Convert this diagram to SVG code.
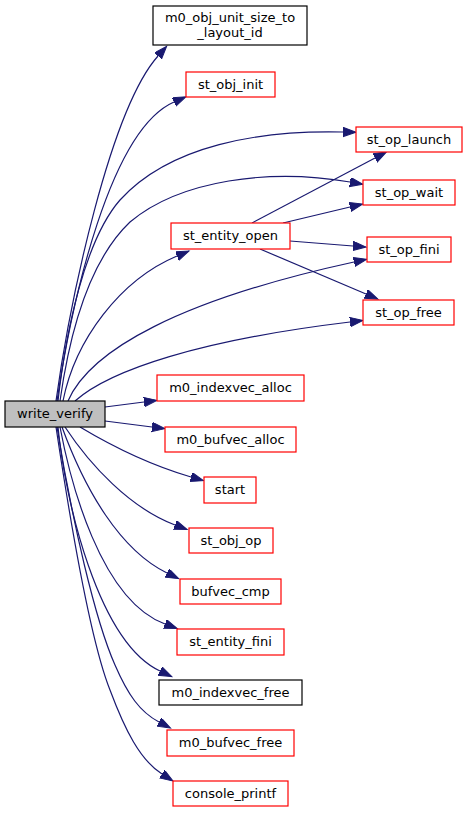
<svg xmlns="http://www.w3.org/2000/svg" width="468" height="813" viewBox="0 0 468 813">
<style>
  .n rect { fill: #ffffff; stroke-width: 1.2; }
  .red rect { stroke: #ff0000; }
  .blk rect { stroke: #000000; }
  .cur rect { fill: #bfbfbf; stroke: #000000; }
  text { font-family: "DejaVu Sans", "Liberation Sans", sans-serif; font-size: 13px; fill: #000000; text-anchor: middle; }
  .e path { fill: none; stroke: #191970; stroke-width: 1.2; marker-end: url(#ah); }
</style>
<defs>
  <marker id="ah" markerUnits="userSpaceOnUse" markerWidth="15" markerHeight="11" refX="0" refY="4.67" orient="auto">
    <path d="M0,0 L13,4.67 L0,9.33 z" fill="#191970" stroke="#191970" stroke-width="1"/>
  </marker>
</defs>
<rect width="468" height="813" fill="#ffffff"/>
<g id="edges" class="e">
  <path d="M56,401 C70,300 110,110 158,56"/>
  <path d="M57,401 C72,300 110,130 174,102"/>
  <path d="M58,401 C66,330 85,240 120,200 C170,145 260,130 343,132"/>
  <path d="M60,401 C70,330 90,260 130,222 C180,180 270,168 350,182"/>
  <path d="M63,401 C75,340 120,280 177,256"/>
  <path d="M68,401 C90,350 180,300 354,262"/>
  <path d="M75,401 C110,370 200,340 350,322"/>
  <path d="M252,223 L375,158"/>
  <path d="M283,223 L350,207"/>
  <path d="M290,241 L353,246"/>
  <path d="M260,249 L366,294"/>
  <path d="M105,407 L144,402"/>
  <path d="M105,421 L152,427"/>
  <path d="M80,427 C110,445 150,465 191,477"/>
  <path d="M65,427 C90,465 130,508 175,525"/>
  <path d="M62,427 C85,490 120,550 167,573"/>
  <path d="M60,427 C70,480 100,600 165,624"/>
  <path d="M58,427 C65,500 98,642 160,671"/>
  <path d="M57,427 C72,520 95,620 115,665 C128,695 140,712 159,722"/>
  <path d="M56,427 C70,520 90,640 110,690 C125,730 140,760 162,774"/>
</g>
<g id="write_verify" class="n cur"><rect x="5" y="401" width="100" height="26"/><text x="55" y="418">write_verify</text></g>
<g id="m0_obj_unit_size_to_layout_id" class="n blk"><rect x="153" y="6" width="154" height="39"/><text x="230" y="21.5">m0_obj_unit_size_to</text><text x="230" y="36.5">_layout_id</text></g>
<g id="st_obj_init" class="n red"><rect x="186" y="72" width="89" height="25"/><text x="230.5" y="89">st_obj_init</text></g>
<g id="st_op_launch" class="n red"><rect x="356" y="127" width="106" height="25"/><text x="409" y="144">st_op_launch</text></g>
<g id="st_op_wait" class="n red"><rect x="363" y="180" width="92" height="25"/><text x="409" y="197">st_op_wait</text></g>
<g id="st_entity_open" class="n red"><rect x="171" y="223" width="119" height="26"/><text x="230.5" y="240">st_entity_open</text></g>
<g id="st_op_fini" class="n red"><rect x="367" y="237" width="84" height="25"/><text x="409" y="254">st_op_fini</text></g>
<g id="st_op_free" class="n red"><rect x="363" y="300" width="91" height="25"/><text x="408.5" y="317">st_op_free</text></g>
<g id="m0_indexvec_alloc" class="n red"><rect x="157" y="375" width="147" height="26"/><text x="230.5" y="392">m0_indexvec_alloc</text></g>
<g id="m0_bufvec_alloc" class="n red"><rect x="165" y="427" width="131" height="25"/><text x="230.5" y="444">m0_bufvec_alloc</text></g>
<g id="start" class="n red"><rect x="204" y="477" width="52" height="26"/><text x="230" y="494">start</text></g>
<g id="st_obj_op" class="n red"><rect x="189" y="528" width="84" height="25"/><text x="231" y="545">st_obj_op</text></g>
<g id="bufvec_cmp" class="n red"><rect x="180" y="579" width="101" height="25"/><text x="230.5" y="596">bufvec_cmp</text></g>
<g id="st_entity_fini" class="n red"><rect x="177" y="629" width="107" height="26"/><text x="230.5" y="646">st_entity_fini</text></g>
<g id="m0_indexvec_free" class="n blk"><rect x="159" y="680" width="143" height="25"/><text x="230.5" y="697">m0_indexvec_free</text></g>
<g id="m0_bufvec_free" class="n red"><rect x="167" y="730" width="127" height="26"/><text x="230.5" y="747">m0_bufvec_free</text></g>
<g id="console_printf" class="n red"><rect x="173" y="781" width="115" height="25"/><text x="230.5" y="798">console_printf</text></g>
</svg>
